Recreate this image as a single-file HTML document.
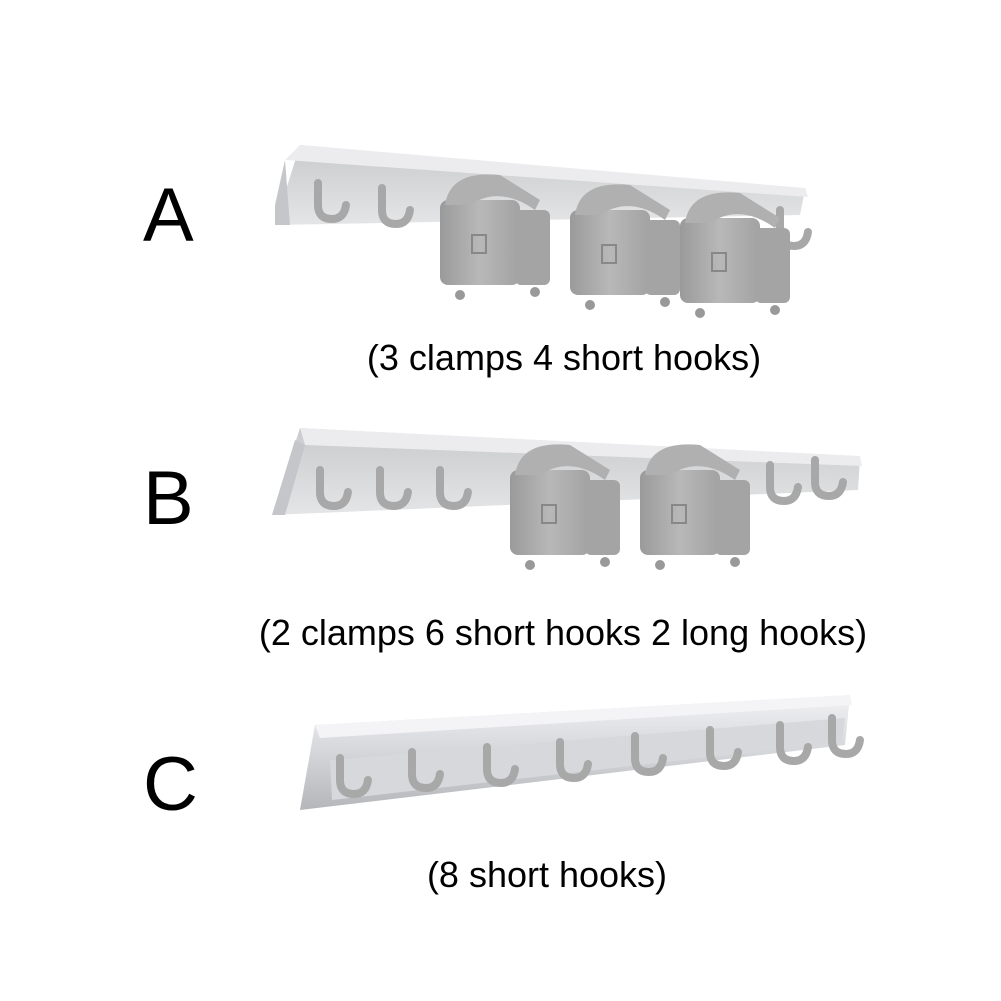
<!DOCTYPE html>
<html><head><meta charset="utf-8"><style>
html,body{margin:0;padding:0;background:#fff;}
svg{display:block}
text{font-family:"Liberation Sans",Arial,sans-serif;fill:#000}
</style></head><body>
<svg width="1001" height="1001" viewBox="0 0 1001 1001" xmlns="http://www.w3.org/2000/svg">
<defs>
<linearGradient id="rail" x1="0" y1="0" x2="0" y2="1">
<stop offset="0" stop-color="#f2f2f4"/><stop offset="0.5" stop-color="#d4d6da"/><stop offset="1" stop-color="#b4b6ba"/>
</linearGradient>
<linearGradient id="back" x1="0" y1="0" x2="0" y2="1">
<stop offset="0" stop-color="#c8cacc"/><stop offset="1" stop-color="#e4e5e7"/>
</linearGradient>
<linearGradient id="clamp" x1="0" y1="0" x2="1" y2="0">
<stop offset="0" stop-color="#9a9a9a"/><stop offset="0.5" stop-color="#b8b8b8"/><stop offset="1" stop-color="#a2a2a2"/>
</linearGradient>
<g id="hook">
<path d="M0,0 L0,22 Q0,36 14,36 Q26,36 28,22" fill="none" stroke="#a8a8a8" stroke-width="8" stroke-linecap="round"/>
</g>
<g id="clampA">
<rect x="0" y="30" width="80" height="85" rx="8" fill="url(#clamp)"/>
<path d="M5,35 Q10,0 60,5 L100,30 L95,40 Q60,15 30,35 Z" fill="#b0b0b0"/>
<rect x="75" y="40" width="35" height="75" rx="6" fill="#a4a4a4"/>
<rect x="32" y="65" width="14" height="18" fill="none" stroke="#888" stroke-width="2"/>
<circle cx="20" cy="125" r="5" fill="#999"/><circle cx="95" cy="122" r="5" fill="#999"/>
</g>
</defs>

<text x="143" y="241" font-size="76">A</text>
<text x="143" y="524" font-size="76">B</text>
<text x="143" y="810" font-size="76">C</text>

<!-- Rail A -->
<polygon points="300,145 805,190 800,215 275,225" fill="url(#back)"/>
<polygon points="300,145 805,188 808,197 285,160" fill="#ececef"/>
<polygon points="275,205 285,160 290,225 275,225" fill="#c4c6c9"/>
<use href="#hook" x="318" y="183"/><use href="#hook" x="382" y="188"/>
<use href="#hook" x="780" y="210"/>
<use href="#clampA" x="440" y="170"/>
<use href="#clampA" x="570" y="180"/>
<use href="#clampA" x="680" y="188"/>

<text x="564" y="370" font-size="36" text-anchor="middle">(3 clamps 4 short hooks)</text>

<!-- Rail B -->
<polygon points="300,428 860,458 858,490 272,515" fill="url(#back)"/>
<polygon points="300,428 860,456 862,466 305,445" fill="#ececef"/>
<polygon points="272,515 295,440 305,445 285,515" fill="#c4c6c9"/>
<use href="#hook" x="320" y="470"/><use href="#hook" x="380" y="470"/><use href="#hook" x="440" y="470"/>
<use href="#hook" x="770" y="465"/><use href="#hook" x="815" y="460"/>
<use href="#clampA" x="510" y="440"/>
<use href="#clampA" x="640" y="440"/>

<text x="563" y="645" font-size="36" text-anchor="middle">(2 clamps 6 short hooks 2 long hooks)</text>

<!-- Rail C -->
<polygon points="315,725 850,695 845,745 300,810" fill="url(#rail)"/>
<polygon points="315,725 850,695 852,705 320,738" fill="#f4f4f6"/>
<polygon points="330,760 845,718 842,742 332,800" fill="#d6d8db"/>
<use href="#hook" x="340" y="758"/><use href="#hook" x="412" y="752"/><use href="#hook" x="487" y="747"/>
<use href="#hook" x="560" y="742"/><use href="#hook" x="635" y="736"/><use href="#hook" x="710" y="730"/>
<use href="#hook" x="780" y="725"/><use href="#hook" x="832" y="718"/>

<text x="547" y="887" font-size="36" text-anchor="middle">(8 short hooks)</text>
</svg>
</body></html>
